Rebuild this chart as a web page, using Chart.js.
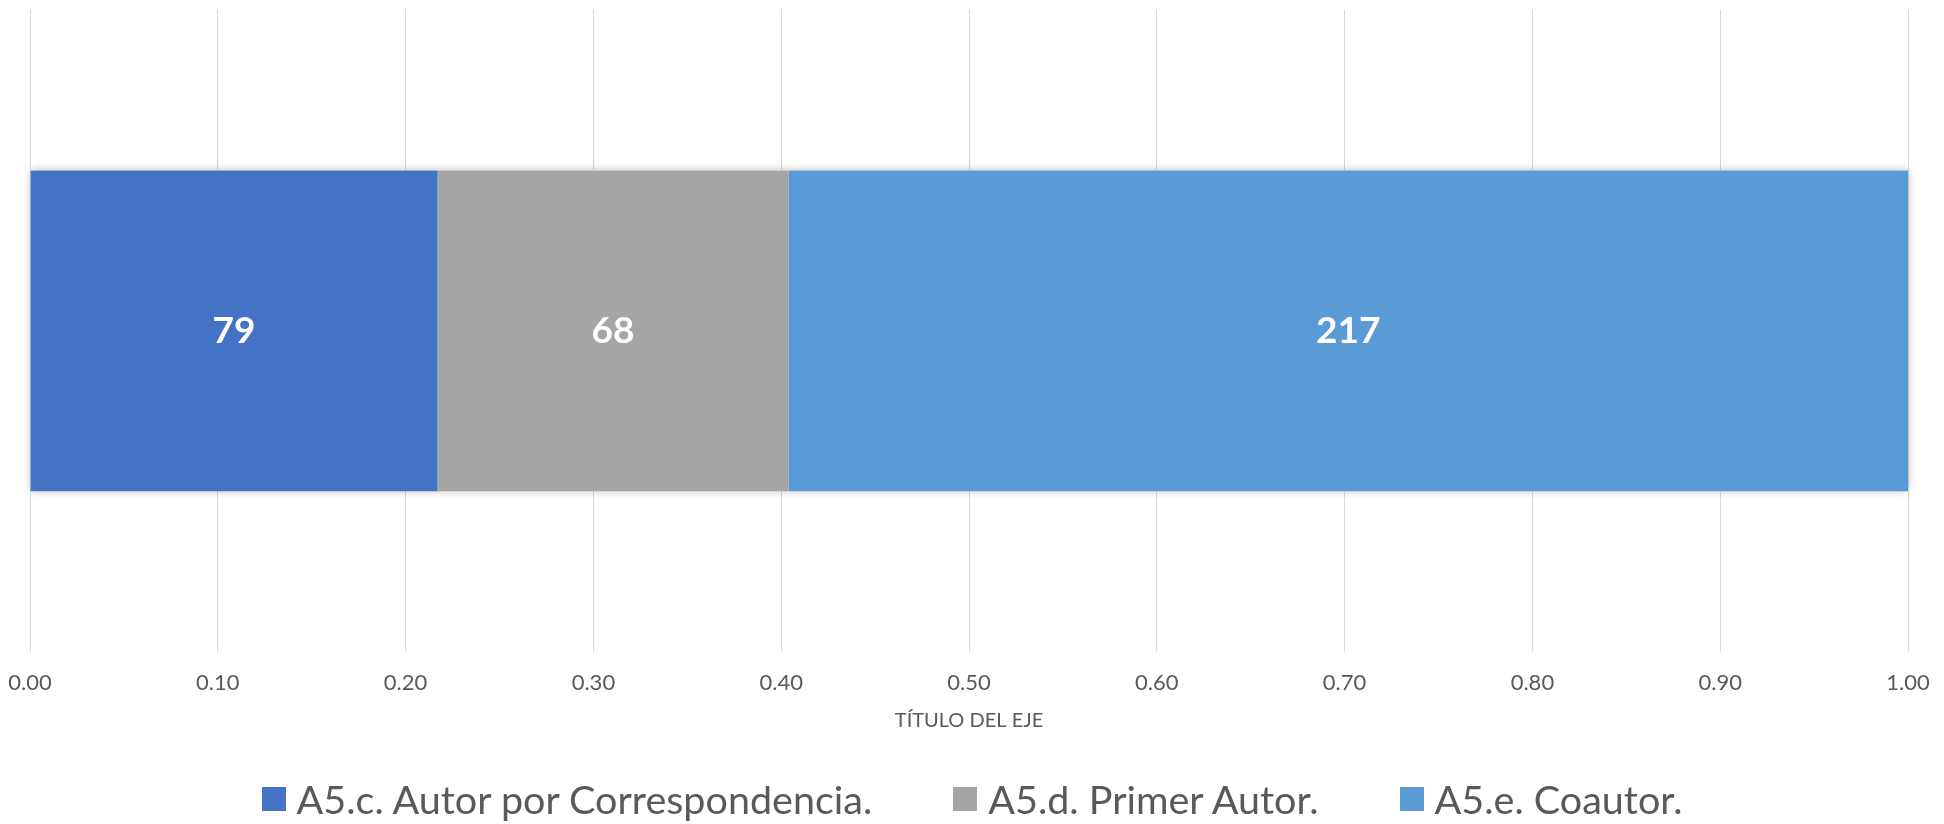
<!DOCTYPE html>
<html>
<head>
<meta charset="utf-8">
<script src="https://cdn.jsdelivr.net/npm/chart.js@4.4.1/dist/chart.umd.min.js"></script>
<style>
  html, body { margin: 0; padding: 0; background: #ffffff; }
  #wrap { position: relative; width: 1944px; height: 824px; overflow: hidden; }
  #legend {
    position: absolute; left: 0; top: 779px; width: 1944px; height: 40px;
    display: flex; justify-content: center; align-items: center; gap: 81px;
    font-family: Lato, "Open Sans", sans-serif; font-size: 39.5px; line-height: 40px; color: #595959;
    white-space: nowrap;
  }
  #legend .item { display: flex; align-items: center; }
  #legend .box { width: 24px; height: 24px; margin-right: 11px; }
</style>
</head>
<body>
<div id="wrap">
  <canvas id="c" width="1944" height="824"></canvas>
  <div id="legend"></div>
</div>
<script>
// ---- data ----
const categories = [''];
const seriesNames = ['A5.c. Autor por Correspondencia.', 'A5.d. Primer Autor.', 'A5.e. Coautor.'];
const seriesCounts = [79, 68, 217];
const seriesColors = ['#4472C4', '#A5A5A5', '#5B9BD5'];
const tickLabels = ['0.00', '0.10', '0.20', '0.30', '0.40', '0.50', '0.60', '0.70', '0.80', '0.90', '1.00'];
const axisTitle = 'TÍTULO DEL EJE';

const total = seriesCounts.reduce((a, b) => a + b, 0);
const FONT = 'Lato, "Open Sans", sans-serif';

const datasets = seriesNames.map((name, i) => ({
  label: name,
  data: [seriesCounts[i] / total],
  count: seriesCounts[i],
  backgroundColor: seriesColors[i],
  borderWidth: 0,
  barPercentage: 0.5,
  categoryPercentage: 1.0
}));

// soft shadow behind the stacked bar (drawn once under all segments)
const shadowPlugin = {
  id: 'barShadow',
  beforeDatasetsDraw(chart) {
    let l = Infinity, r = -Infinity, t = Infinity, b = -Infinity;
    chart.data.datasets.forEach((ds, i) => {
      chart.getDatasetMeta(i).data.forEach(el => {
        const p = el.getProps(['x', 'y', 'base', 'height'], true);
        l = Math.min(l, p.base, p.x); r = Math.max(r, p.base, p.x);
        t = Math.min(t, p.y - p.height / 2); b = Math.max(b, p.y + p.height / 2);
      });
    });
    const ctx = chart.ctx;
    ctx.save();
    ctx.shadowColor = 'rgba(0,0,0,0.28)';
    ctx.shadowBlur = 9;
    ctx.fillStyle = '#ffffff';
    ctx.fillRect(l, t, r - l, b - t);
    ctx.restore();
  }
};

// white bold value labels at segment centers
const valueLabels = {
  id: 'valueLabels',
  afterDatasetsDraw(chart) {
    const ctx = chart.ctx;
    ctx.save();
    ctx.fillStyle = '#ffffff';
    ctx.font = 'bold 37px ' + FONT;
    ctx.textAlign = 'center';
    ctx.textBaseline = 'middle';
    chart.data.datasets.forEach((ds, i) => {
      chart.getDatasetMeta(i).data.forEach(el => {
        const c = el.getCenterPoint();
        ctx.fillText(String(ds.count), c.x, c.y);
      });
    });
    ctx.restore();
  }
};

const chart = new Chart(document.getElementById('c'), {
  type: 'bar',
  data: { labels: categories, datasets },
  options: {
    indexAxis: 'y',
    responsive: false,
    animation: false,
    devicePixelRatio: 1,
    layout: { padding: { left: 30, right: 36, top: 10, bottom: 91 } },
    plugins: {
      legend: { display: false },
      tooltip: { enabled: false }
    },
    scales: {
      x: {
        type: 'linear',
        stacked: true,
        min: 0,
        max: 1,
        ticks: {
          stepSize: 0.1,
          padding: 4,
          color: '#595959',
          font: { family: FONT, size: 22 },
          maxRotation: 0,
          autoSkip: false,
          callback: (v, i) => tickLabels[i]
        },
        grid: { color: '#d9d9d9', lineWidth: 1, drawTicks: true, tickLength: 14, tickColor: 'rgba(0,0,0,0)' },
        border: { display: false },
        title: {
          display: true,
          text: axisTitle,
          color: '#595959',
          font: { family: FONT, size: 20 },
          padding: { top: 9, bottom: 0 }
        }
      },
      y: {
        stacked: true,
        display: false
      }
    }
  },
  plugins: [shadowPlugin, valueLabels]
});

// legend (HTML) built from the same series arrays
const legendEl = document.getElementById('legend');
seriesNames.forEach((name, i) => {
  const item = document.createElement('div');
  item.className = 'item';
  const box = document.createElement('span');
  box.className = 'box';
  box.style.background = seriesColors[i];
  const txt = document.createElement('span');
  txt.textContent = name;
  item.appendChild(box);
  item.appendChild(txt);
  legendEl.appendChild(item);
});
</script>
</body>
</html>
